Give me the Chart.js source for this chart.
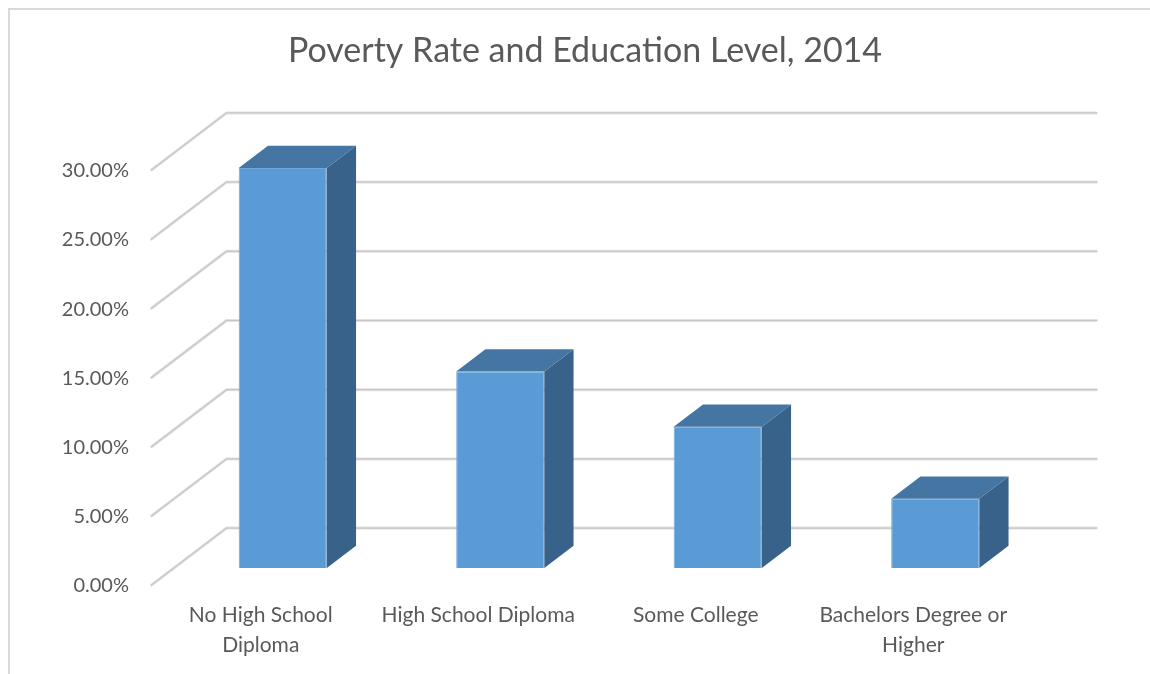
<!DOCTYPE html>
<html lang="en">
<head>
  <meta charset="UTF-8" />
  <title>Poverty Rate and Education Level, 2014</title>
  <script src="https://cdn.jsdelivr.net/npm/chart.js"></script>
  <style>
    html, body { margin: 0; padding: 0; background: #fff; }
    #wrap { width: 1150px; height: 674px; }
  </style>
</head>
<body>
  <div id="wrap"><canvas id="povertyChart" width="1150" height="674"></canvas></div>

  <script>
    const categories = [['No High School', 'Diploma'], 'High School Diploma', 'Some College', ['Bachelors Degree or', 'Higher']];
    const povertyRates = [28.9, 14.2, 10.2, 5.0];
    const yTicks = [0, 5, 10, 15, 20, 25, 30];

    // fake 3d: full depth of the box, where the bars stand in it, and bar depth
    const DEPTH_X = 75, DEPTH_Y = -57;
    const BAR_PLANE = 0.30;
    const BAR_DEPTH = 0.39;

    const fontFamily = 'Lato, "Open Sans", sans-serif';
    const textColor = '#595959';

    function gridLine(ctx, pts) {
      ctx.beginPath();
      ctx.moveTo(pts[0][0], pts[0][1]);
      for (let i = 1; i < pts.length; i++) ctx.lineTo(pts[i][0], pts[i][1]);
      ctx.lineJoin = 'round';
      ctx.lineCap = 'round';
      ctx.strokeStyle = '#E2E2E2';
      ctx.lineWidth = 3;
      ctx.stroke();
      ctx.strokeStyle = '#C6C6C6';
      ctx.lineWidth = 1.2;
      ctx.stroke();
    }

    const boxPlugin = {
      id: 'box3d',
      beforeDraw(chart) {
        const ctx = chart.ctx;
        ctx.save();
        ctx.fillStyle = '#fff';
        ctx.fillRect(0, 0, chart.width, chart.height);
        ctx.strokeStyle = '#D9D9D9';
        ctx.lineWidth = 2;
        ctx.strokeRect(9, 9, chart.width + 20, chart.height + 20);
        ctx.restore();
      },
      beforeDatasetsDraw(chart) {
        const ctx = chart.ctx;
        const area = chart.chartArea;
        const y = chart.scales.y;
        const fx = -BAR_PLANE * DEPTH_X, fy = -BAR_PLANE * DEPTH_Y;
        const bx = (1 - BAR_PLANE) * DEPTH_X, by = (1 - BAR_PLANE) * DEPTH_Y;
        ctx.save();
        yTicks.forEach(v => {
          const py = y.getPixelForValue(v);
          gridLine(ctx, [
            [area.left + fx, py + fy],
            [area.left + bx, py + by],
            [area.right + bx, py + by]
          ]);
        });
        ctx.restore();
      },
      afterDatasetsDraw(chart) {
        const ctx = chart.ctx;
        const dx = BAR_DEPTH * DEPTH_X, dy = BAR_DEPTH * DEPTH_Y;
        ctx.save();
        chart.getDatasetMeta(0).data.forEach(bar => {
          const l = bar.x - bar.width / 2, r = bar.x + bar.width / 2;
          const t = bar.y, b = bar.base;
          // side
          ctx.beginPath();
          ctx.moveTo(r, t);
          ctx.lineTo(r + dx, t + dy);
          ctx.lineTo(r + dx, b + dy);
          ctx.lineTo(r, b);
          ctx.closePath();
          ctx.fillStyle = '#386289';
          ctx.fill();
          // top
          ctx.beginPath();
          ctx.moveTo(l, t);
          ctx.lineTo(l + dx, t + dy);
          ctx.lineTo(r + dx, t + dy);
          ctx.lineTo(r, t);
          ctx.closePath();
          ctx.fillStyle = '#4475A3';
          ctx.fill();
        });
        ctx.restore();
      }
    };

    new Chart(document.getElementById('povertyChart'), {
      type: 'bar',
      data: {
        labels: categories,
        datasets: [{
          data: povertyRates,
          backgroundColor: '#5B9BD5',
          borderColor: '#6FA8DC',
          borderWidth: 1,
          barPercentage: 0.405,
          categoryPercentage: 1
        }]
      },
      options: {
        responsive: false,
        animation: false,
        layout: { padding: { left: 20, right: 0, top: 0, bottom: 0 } },
        plugins: {
          legend: { display: false },
          tooltip: { enabled: false },
          title: {
            display: true,
            text: 'Poverty Rate and Education Level, 2014',
            color: textColor,
            font: { family: fontFamily, size: 34, weight: 'normal', lineHeight: 1.2 },
            padding: { top: 31, bottom: 81 }
          }
        },
        scales: {
          x: {
            grid: { display: false, drawTicks: false },
            border: { display: false },
            ticks: {
              color: textColor,
              font: { family: fontFamily, size: 21, lineHeight: 1.43 },
              labelOffset: -22,
              padding: 32,
              maxRotation: 0,
              autoSkip: false
            },
            afterFit(scale) { scale.height = 106; }
          },
          y: {
            min: 0,
            max: 30,
            grid: { display: false, drawTicks: false },
            border: { display: false },
            ticks: {
              stepSize: 5,
              color: textColor,
              font: { family: fontFamily, size: 20 },
              padding: 45,
              labelOffset: 18,
              callback: v => v.toFixed(2) + '%'
            },
            afterFit(scale) { scale.width = 154; }
          },
          // empty right axis, only keeps room for the back wall
          yRight: {
            position: 'right',
            grid: { display: false, drawTicks: false },
            border: { display: false },
            ticks: { display: false },
            afterFit(scale) { scale.width = 106; }
          }
        }
      },
      plugins: [boxPlugin]
    });
  </script>
</body>
</html>
